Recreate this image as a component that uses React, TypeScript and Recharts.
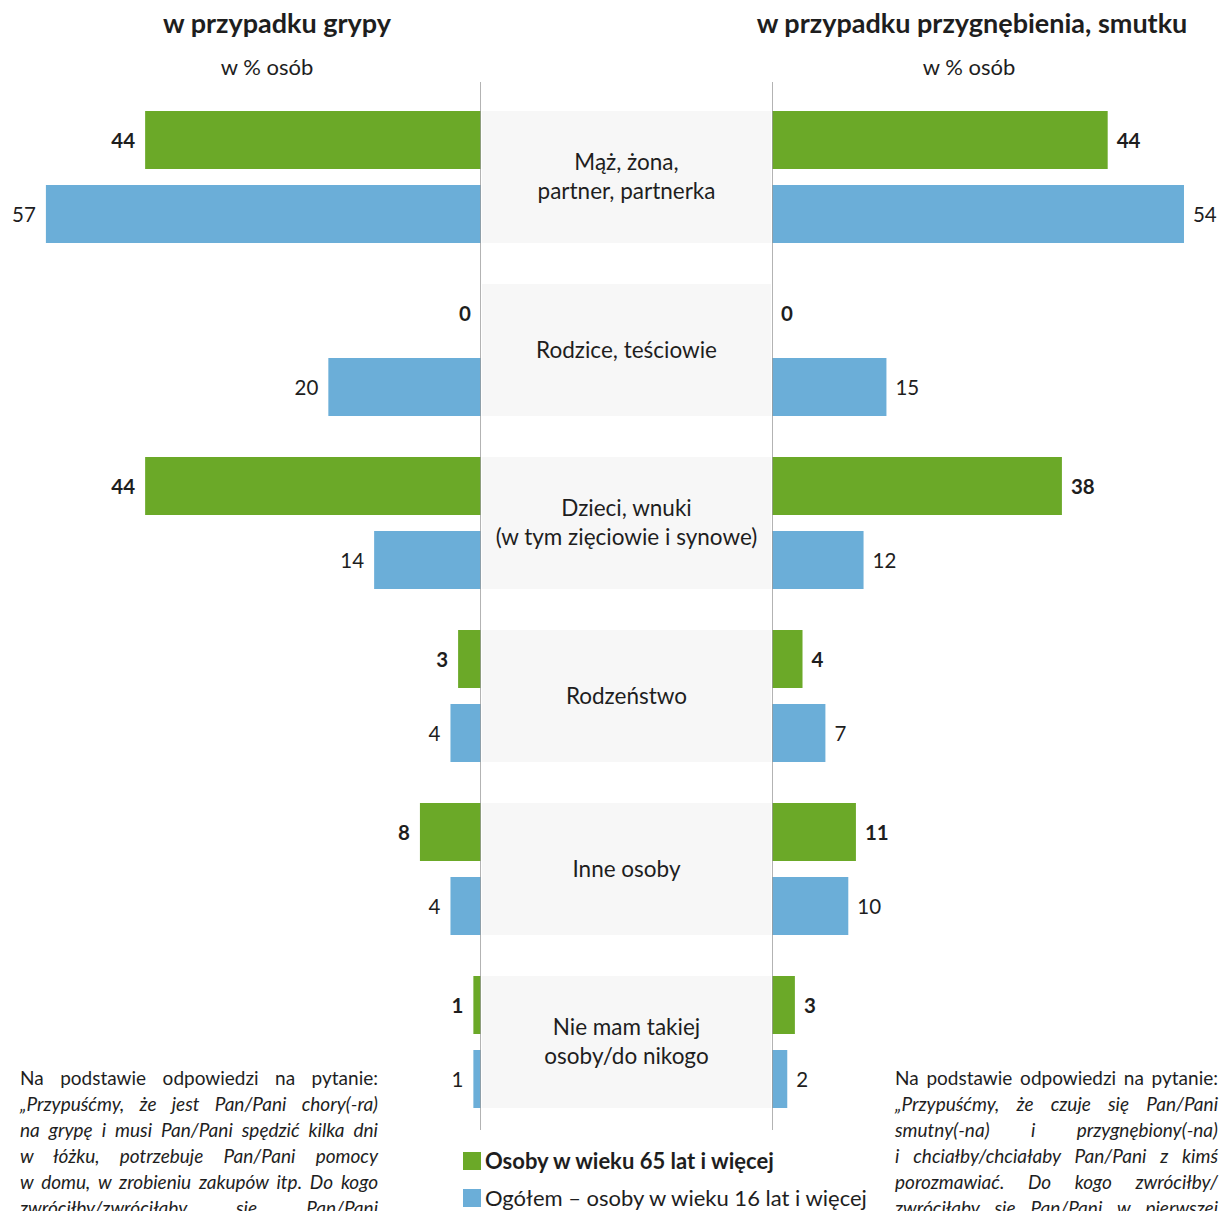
import { Bar, BarChart, ReferenceDot, ReferenceLine, XAxis, YAxis } from "recharts";

const kategorie = [
  "Mąż, żona,\npartner, partnerka",
  "Rodzice, teściowie",
  "Dzieci, wnuki\n(w tym zięciowie i synowe)",
  "Rodzeństwo",
  "Inne osoby",
  "Nie mam takiej\nosoby/do nikogo",
];

// w % osób
const grypa65 = [44, 0, 44, 3, 8, 1];
const grypaOgolem = [57, 20, 14, 4, 4, 1];
const smutek65 = [44, 0, 38, 4, 11, 3];
const smutekOgolem = [54, 15, 12, 7, 10, 2];

const przypisGrypa = [
  "Na podstawie odpowiedzi na pytanie:",
  "„Przypuśćmy, że jest Pan/Pani chory(-ra)",
  "na grypę i musi Pan/Pani spędzić kilka dni",
  "w łóżku, potrzebuje Pan/Pani pomocy",
  "w domu, w zrobieniu zakupów itp. Do kogo",
  "zwróciłby/zwróciłaby się Pan/Pani",
];
const przypisSmutek = [
  "Na podstawie odpowiedzi na pytanie:",
  "„Przypuśćmy, że czuje się Pan/Pani",
  "smutny(-na) i przygnębiony(-na)",
  "i chciałby/chciałaby Pan/Pani z kimś",
  "porozmawiać. Do kogo zwróciłby/",
  "zwróciłaby się Pan/Pani w pierwszej",
];

const ZIELONY = "#6ba928";
const NIEBIESKI = "#6baed8";
const TEKST = "#1e1e1e";
const FONT = "Lato, 'Open Sans', sans-serif";

const BAR = 58;
const ODSTEP = 16;
// środek słupka względem środka kategorii
const PRZES = (BAR + ODSTEP) / 2;

const grypa = kategorie.map((kategoria, i) => ({ kategoria, seniorzy: grypa65[i], ogolem: grypaOgolem[i] }));
const smutek = kategorie.map((kategoria, i) => ({ kategoria, seniorzy: smutek65[i], ogolem: smutekOgolem[i] }));
const panele = kategorie.map((kategoria) => ({ kategoria, tlo: 1 }));

const WYS = 1130;
const MARGINES = { top: 90, bottom: 2 };

// podpis wartości przy końcu słupka
function podpis(strona: "lewa" | "prawa", pogrubiona: boolean, dy: number, wartosc: number) {
  return (p: any) => (
    <text
      x={strona === "lewa" ? p.cx - 10 : p.cx + 9}
      y={p.cy + dy}
      textAnchor={strona === "lewa" ? "end" : "start"}
      dominantBaseline="central"
      fontSize={20.5}
      fontWeight={pogrubiona ? 700 : 400}
      fill={TEKST}
      fontFamily={FONT}
    >
      {wartosc}
    </text>
  );
}

function podpisy(dane: typeof grypa, strona: "lewa" | "prawa") {
  return dane.flatMap((d) => [
    <ReferenceDot
      key={`s-${d.kategoria}`}
      x={d.seniorzy}
      y={d.kategoria}
      r={0}
      ifOverflow="visible"
      shape={podpis(strona, true, -PRZES, d.seniorzy)}
    />,
    <ReferenceDot
      key={`o-${d.kategoria}`}
      x={d.ogolem}
      y={d.kategoria}
      r={0}
      ifOverflow="visible"
      shape={podpis(strona, false, PRZES, d.ogolem)}
    />,
  ]);
}

function linia(props: any) {
  return <line x1={props.x1} x2={props.x2} y1={props.y1 + 8} y2={props.y2 - 8} stroke="#9a9a9a" strokeWidth={1.5} />;
}

function nazwaKategorii(props: any) {
  const linie = String(props.payload.kategoria).split("\n");
  const cx = Number(props.x) + Number(props.width) / 2;
  const cy = Number(props.y) + Number(props.height) / 2;
  const start = cy - ((linie.length - 1) * 29) / 2 - 1;
  return (
    <g>
      <rect x={props.x} y={props.y} width={props.width} height={props.height} fill="#f7f7f7" />
      <text textAnchor="middle" fontSize={22.5} fill={TEKST} fontFamily={FONT}>
        {linie.map((l, i) => (
          <tspan key={i} x={cx} y={start + i * 29} dominantBaseline="central">
            {l}
          </tspan>
        ))}
      </text>
    </g>
  );
}

function Przypis({ linie, left, width }: { linie: string[]; left: number; width: number }) {
  return (
    <div style={{ position: "absolute", left, top: 1065, width, fontSize: 19, lineHeight: "26px" }}>
      {linie.map((l, i) => (
        <div
          key={i}
          style={{ textAlign: "justify", textAlignLast: "justify", whiteSpace: "nowrap", fontStyle: i === 0 ? "normal" : "italic" }}
        >
          {l}
        </div>
      ))}
    </div>
  );
}

export default function App() {
  return (
    <div
      style={{
        position: "absolute",
        left: 0,
        top: 0,
        width: 1221,
        height: 1211,
        overflow: "hidden",
        background: "#fff",
        fontFamily: FONT,
        color: TEKST,
      }}
    >
      <div style={{ position: "absolute", left: 77, top: 5, width: 400, textAlign: "center", fontSize: 27, fontWeight: 700, lineHeight: "36px" }}>
        w przypadku grypy
      </div>
      <div style={{ position: "absolute", left: 167, top: 53, width: 200, textAlign: "center", fontSize: 22, lineHeight: "28px" }}>
        w % osób
      </div>
      <div style={{ position: "absolute", left: 712, top: 5, width: 520, textAlign: "center", fontSize: 27, fontWeight: 700, lineHeight: "36px" }}>
        w przypadku przygnębienia, smutku
      </div>
      <div style={{ position: "absolute", left: 869, top: 53, width: 200, textAlign: "center", fontSize: 22, lineHeight: "28px" }}>
        w % osób
      </div>

      <div style={{ position: "absolute", left: 0, top: 0 }}>
        <BarChart width={481} height={WYS} data={grypa} layout="vertical" barSize={BAR} barGap={ODSTEP} margin={{ ...MARGINES, left: 23, right: 0 }}>
          <XAxis type="number" domain={[0, 60]} reversed hide />
          <YAxis type="category" dataKey="kategoria" hide />
          <Bar dataKey="seniorzy" fill={ZIELONY} isAnimationActive={false} />
          <Bar dataKey="ogolem" fill={NIEBIESKI} isAnimationActive={false} />
          <ReferenceLine x={0} shape={linia} />
          {podpisy(grypa, "lewa")}
        </BarChart>
      </div>

      <div style={{ position: "absolute", left: 481, top: 0 }}>
        <BarChart width={291} height={WYS} data={panele} layout="vertical" barSize={132} margin={{ ...MARGINES, left: 1, right: 1 }}>
          <XAxis type="number" domain={[0, 1]} hide />
          <YAxis type="category" dataKey="kategoria" hide />
          <Bar dataKey="tlo" shape={nazwaKategorii} isAnimationActive={false} />
        </BarChart>
      </div>

      <div style={{ position: "absolute", left: 772, top: 0 }}>
        <BarChart width={449} height={WYS} data={smutek} layout="vertical" barSize={BAR} barGap={ODSTEP} margin={{ ...MARGINES, left: 0, right: 6.5 }}>
          <XAxis type="number" domain={[0, 58]} hide />
          <YAxis type="category" dataKey="kategoria" hide />
          <Bar dataKey="seniorzy" fill={ZIELONY} isAnimationActive={false} />
          <Bar dataKey="ogolem" fill={NIEBIESKI} isAnimationActive={false} />
          <ReferenceLine x={0} shape={linia} />
          {podpisy(smutek, "prawa")}
        </BarChart>
      </div>

      {/* legenda */}
      <div style={{ position: "absolute", left: 463, top: 1148, fontSize: 22, lineHeight: "26px", whiteSpace: "nowrap" }}>
        <div style={{ display: "flex", alignItems: "center", gap: 4, fontWeight: 700 }}>
          <span style={{ width: 18, height: 18, background: ZIELONY, display: "inline-block" }} />
          Osoby w wieku 65 lat i więcej
        </div>
        <div style={{ display: "flex", alignItems: "center", gap: 4, marginTop: 11 }}>
          <span style={{ width: 18, height: 18, background: NIEBIESKI, display: "inline-block" }} />
          Ogółem – osoby w wieku 16 lat i więcej
        </div>
      </div>

      <Przypis linie={przypisGrypa} left={20} width={358} />
      <Przypis linie={przypisSmutek} left={895} width={323} />
    </div>
  );
}
